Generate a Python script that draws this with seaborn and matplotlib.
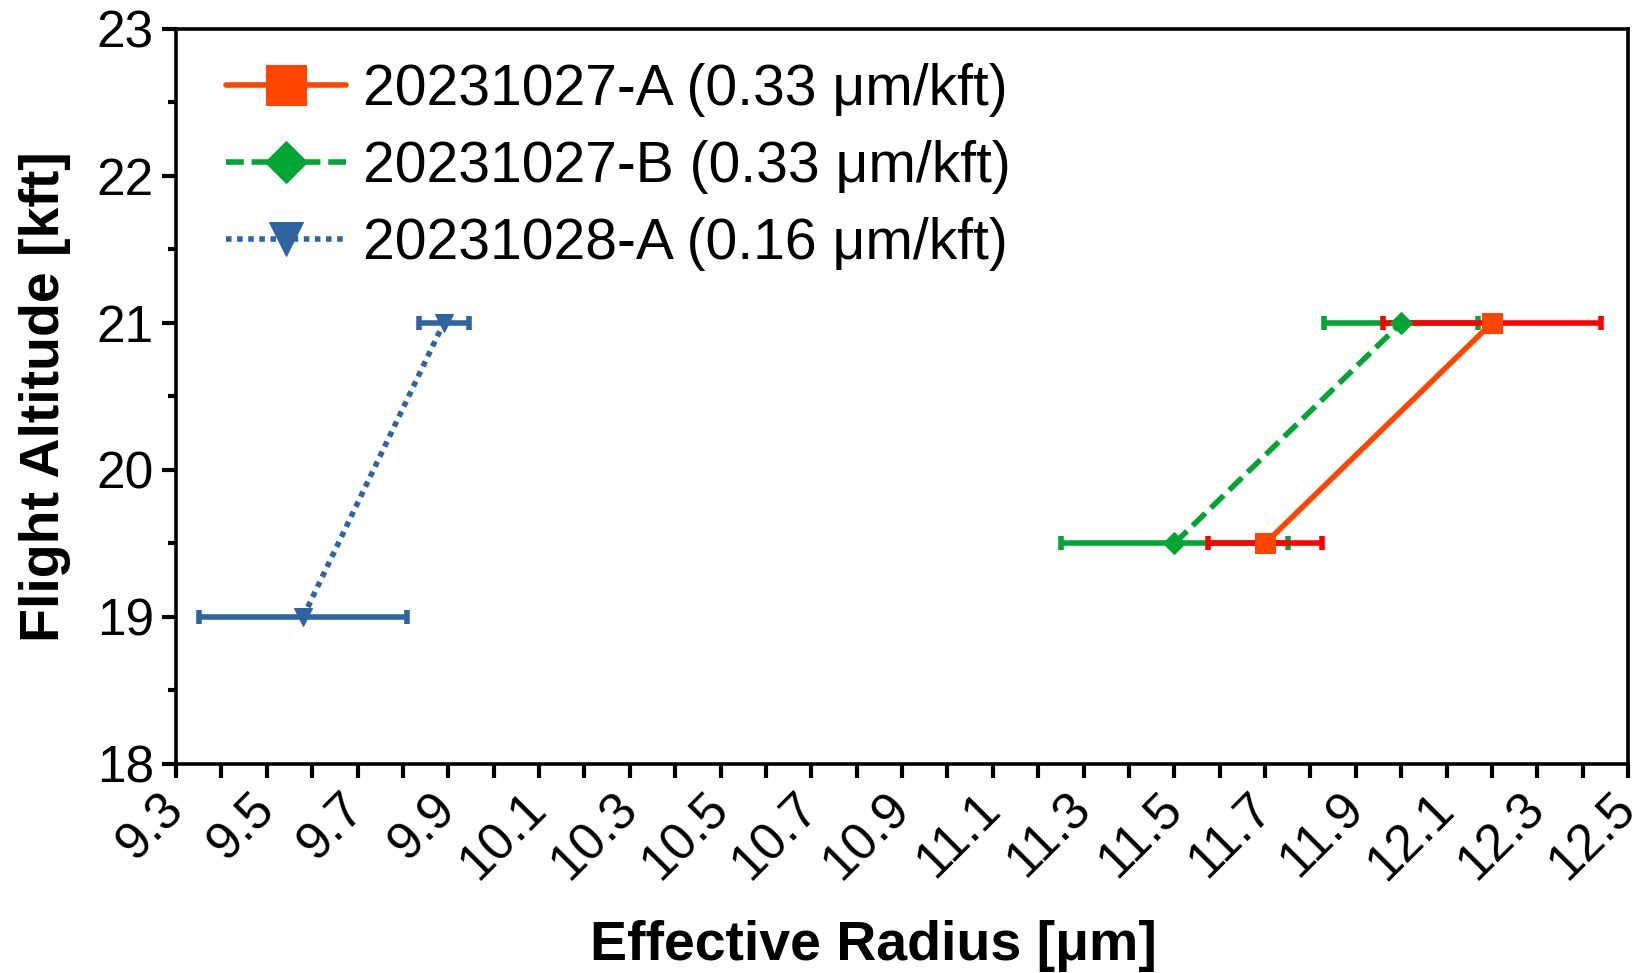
import numpy as np
import matplotlib
matplotlib.use("Agg")
import matplotlib.pyplot as plt
import seaborn as sns
import pandas as pd
from matplotlib.ticker import MultipleLocator

labels = ['20231027-A (0.33 μm/kft)', '20231027-B (0.33 μm/kft)', '20231028-A (0.16 μm/kft)']
radius_a = [11.70, 12.20]
alt_a = [19.5, 21.0]
err_a = [0.125, 0.24]
radius_b = [11.50, 12.00]
alt_b = [19.5, 21.0]
err_b = [0.25, 0.17]
radius_c = [9.58, 9.89]
alt_c = [19.0, 21.0]
err_c = [0.23, 0.055]

line_colors = ['#FF4500', '#00A633', '#2E64A0']
bar_colors = ['#FF0000', '#00A633', '#2E64A0']
markers = ['s', 'D', 'v']
msizes = [15, 11, 13]
dashes = ['-', (0, (3.2, 1.4)), (0, (1.0, 1.0))]

sns.set_style("ticks")
plt.rcParams['font.family'] = ['Liberation Sans', 'DejaVu Sans']
plt.rcParams['text.color'] = 'black'
plt.rcParams['xtick.color'] = 'black'
plt.rcParams['ytick.color'] = 'black'
plt.rcParams['axes.labelcolor'] = 'black'
plt.rcParams['axes.edgecolor'] = 'black'

fig = plt.figure(figsize=(16.39, 9.73), dpi=100)
ax = fig.add_axes([0.1074, 0.2148, 0.8859, 0.7554])

series = [(radius_a, alt_a, err_a), (radius_b, alt_b, err_b), (radius_c, alt_c, err_c)]
for i, (xs, ys, es) in enumerate(series):
    df = pd.DataFrame({'r': xs, 'h': ys})
    # red error bars sit above the green ones in the original
    ax.errorbar(xs, ys, xerr=es, fmt='none', ecolor=bar_colors[i], elinewidth=4,
                capsize=5, capthick=4, zorder=2.5 if i == 0 else 2)
    sns.lineplot(data=df, x='r', y='h', ax=ax, color=line_colors[i], linewidth=4,
                 linestyle=dashes[i], marker=markers[i], markersize=msizes[i],
                 markeredgecolor=line_colors[i], label=labels[i], zorder=3)

ax.set_xlim(9.3, 12.5)
ax.set_ylim(18, 23)
ax.set_xticks(np.arange(9.3, 12.51, 0.2))
ax.set_xticklabels(['%.1f' % v for v in np.arange(9.3, 12.51, 0.2)], rotation=45,
                   ha='right', va='center', rotation_mode='anchor')
ax.xaxis.set_minor_locator(MultipleLocator(0.1))
ax.yaxis.set_major_locator(MultipleLocator(1))
ax.yaxis.set_minor_locator(MultipleLocator(0.5))
ax.tick_params(axis='both', which='major', labelsize=37, length=10, width=3, direction='out')
ax.tick_params(axis='x', which='minor', length=10, width=3, direction='out')
ax.tick_params(axis='y', which='minor', length=6, width=3, direction='out')
ax.tick_params(axis='x', pad=17)
ax.tick_params(axis='y', pad=6)
for s in ax.spines.values():
    s.set_linewidth(2.6)

ax.set_xlabel('Effective Radius [μm]', fontsize=40, fontweight='bold')
ax.set_ylabel('Flight Altitude [kft]', fontsize=40, fontweight='bold')
ax.xaxis.set_label_coords(0.48, -0.212)
ax.yaxis.set_label_coords(-0.072, 0.5)

leg = ax.legend(loc='upper left', frameon=False, fontsize=41, handlelength=2.1,
                handletextpad=0.3, labelspacing=0.4, borderaxespad=0.2,
                markerscale=1.9, bbox_to_anchor=(0.011, 1.0))

fig.savefig('out.png', dpi=100)
